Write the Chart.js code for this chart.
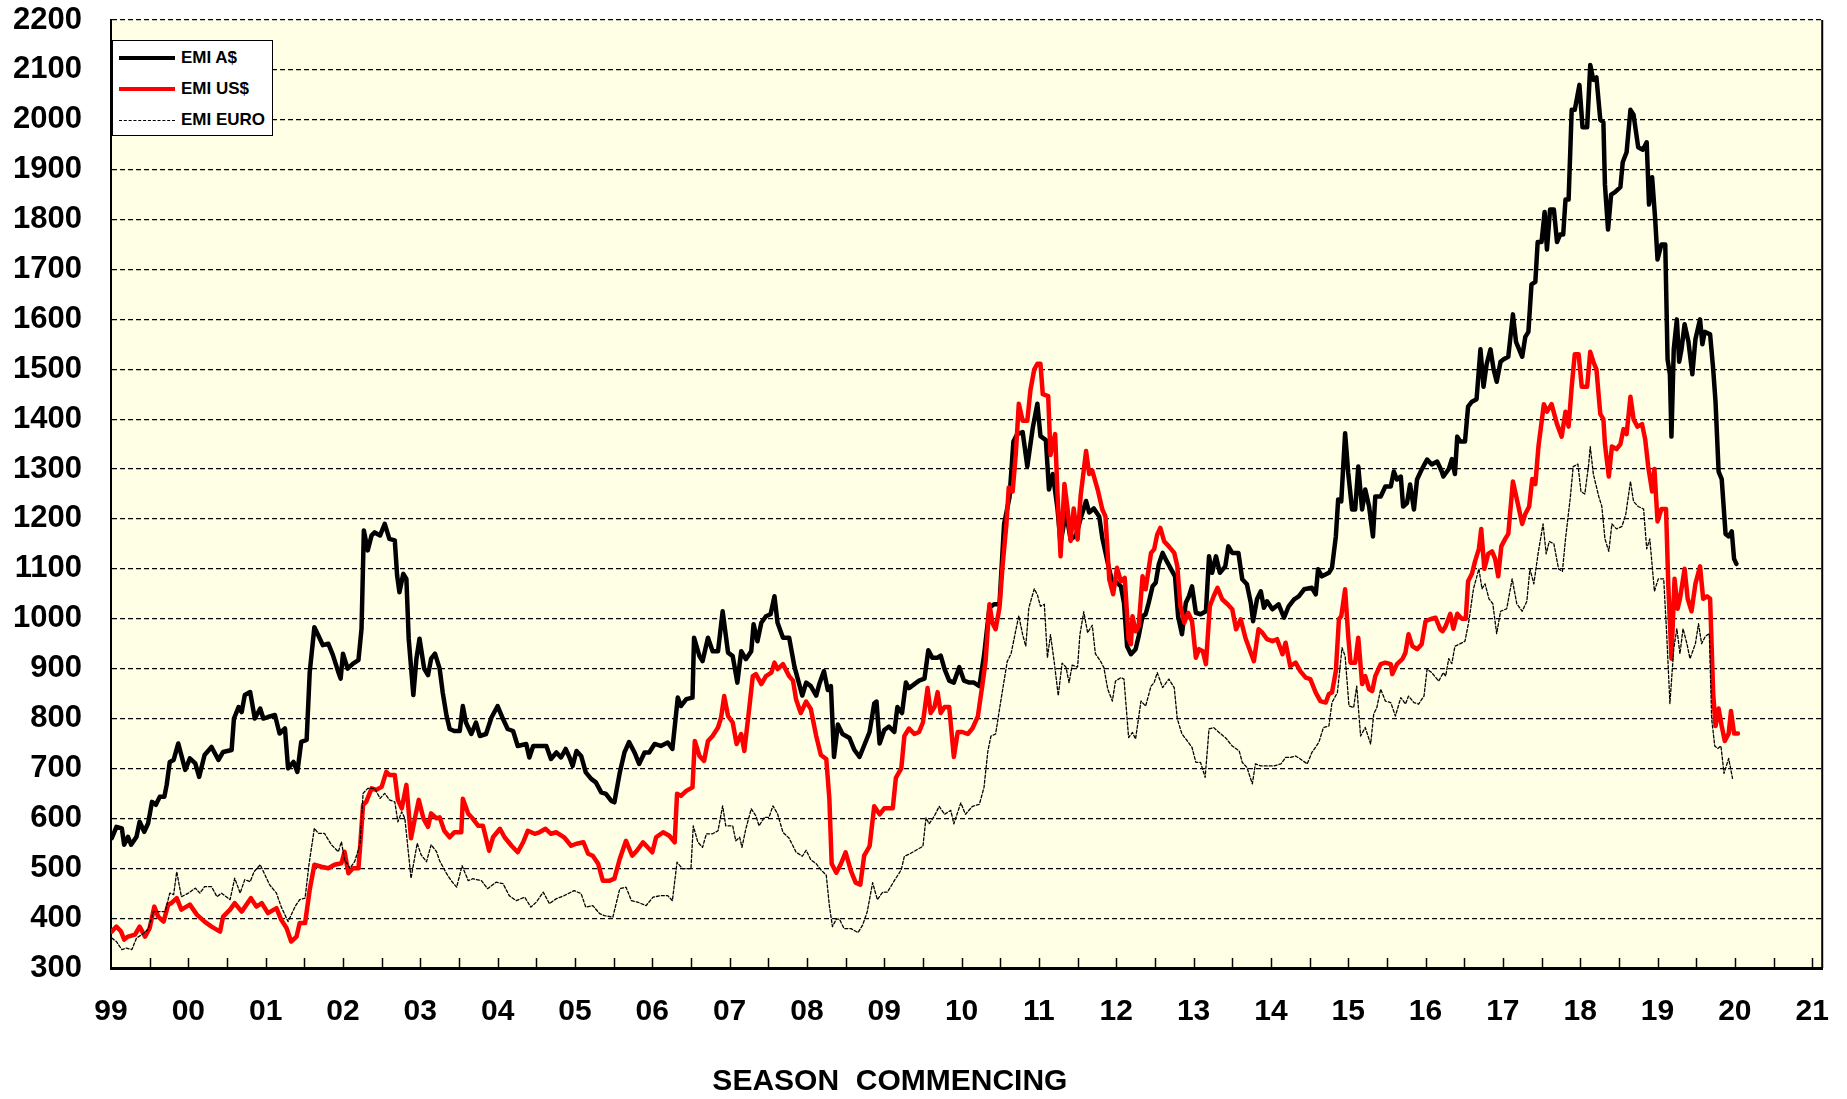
<!DOCTYPE html>
<html>
<head>
<meta charset="utf-8">
<title>EMI</title>
<script src="https://cdn.jsdelivr.net/npm/chart.js@4.4.1/dist/chart.umd.min.js"></script>
<style>
  html, body { margin: 0; padding: 0; background: #fff; }
  #wrap { position: relative; width: 1847px; height: 1099px; }
  #legend {
    position: absolute; left: 112px; top: 40px; width: 159px; height: 94px;
    border: 1.5px solid #000; background: #fff;
    font: bold 17px "Liberation Sans", Arial, sans-serif; color: #000;
  }
  .row { position: absolute; left: 0; width: 100%; height: 20px; }
  .sample { position: absolute; left: 6px; width: 56px; top: 8px; height: 0; }
  .label { position: absolute; left: 68px; top: 0; line-height: 20px; white-space: nowrap; }
</style>
</head>
<body>
<div id="wrap">
  <canvas id="emiChart" width="1847" height="1099"></canvas>
  <div id="legend">
    <div class="row" style="top:7px"><div class="sample" style="border-top:4px solid #000"></div><span class="label">EMI A$</span></div>
    <div class="row" style="top:38px"><div class="sample" style="border-top:4px solid #f00"></div><span class="label">EMI US$</span></div>
    <div class="row" style="top:69px"><div class="sample" style="top:10px;border-top:1px dashed #000"></div><span class="label">EMI EURO</span></div>
  </div>
</div>
<script>
// values, x = season year (decimal), y = cents/kg
const aud = [
  [1999.01,560],[1999.07,583],[1999.14,580],[1999.17,547],[1999.22,563],[1999.26,547],[1999.33,563],[1999.37,593],[1999.43,573],[1999.48,590],[1999.53,633],[1999.58,627],[1999.63,643],[1999.69,643],[1999.72,667],[1999.76,713],[1999.81,717],[1999.87,750],[1999.96,697],
  [2000.02,720],[2000.09,710],[2000.14,683],[2000.21,727],[2000.30,743],[2000.39,717],[2000.45,733],[2000.56,737],[2000.59,800],[2000.65,823],[2000.69,813],[2000.73,847],[2000.80,853],[2000.86,800],[2000.93,820],[2000.97,800],
  [2001.03,803],[2001.12,807],[2001.18,770],[2001.25,780],[2001.29,700],[2001.36,713],[2001.41,693],[2001.46,753],[2001.53,757],[2001.57,893],[2001.63,983],[2001.68,967],[2001.74,947],[2001.81,950],[2001.87,927],[2001.94,893],[2001.97,880],
  [2002.00,930],[2002.06,900],[2002.13,910],[2002.20,917],[2002.24,980],[2002.27,1177],[2002.32,1137],[2002.37,1167],[2002.41,1173],[2002.48,1167],[2002.54,1190],[2002.60,1160],[2002.67,1157],[2002.70,1087],[2002.73,1053],[2002.78,1090],[2002.82,1080],[2002.85,960],[2002.91,847],[2002.95,920],[2002.99,960],
  [2003.05,900],[2003.10,887],[2003.14,920],[2003.19,930],[2003.25,900],[2003.29,852],[2003.34,805],[2003.38,779],[2003.44,775],[2003.51,775],[2003.55,825],[2003.59,792],[2003.66,769],[2003.72,792],[2003.77,765],[2003.85,769],[2003.92,802],
  [2004.00,825],[2004.07,799],[2004.13,779],[2004.20,775],[2004.26,745],[2004.37,749],[2004.41,722],[2004.46,745],[2004.54,745],[2004.63,745],[2004.69,719],[2004.76,732],[2004.82,722],[2004.88,739],[2004.93,722],[2004.97,705],
  [2005.02,735],[2005.08,725],[2005.14,692],[2005.21,679],[2005.27,672],[2005.34,652],[2005.40,649],[2005.47,635],[2005.51,632],[2005.58,692],[2005.64,732],[2005.70,753],[2005.77,732],[2005.83,709],[2005.90,732],[2005.96,732],
  [2006.03,749],[2006.11,745],[2006.20,752],[2006.26,739],[2006.33,842],[2006.37,825],[2006.44,839],[2006.52,842],[2006.54,962],[2006.61,925],[2006.65,915],[2006.72,962],[2006.78,935],[2006.85,935],[2006.91,1015],[2006.98,932],
  [2007.04,925],[2007.10,872],[2007.15,935],[2007.21,919],[2007.28,935],[2007.31,989],[2007.36,955],[2007.41,992],[2007.47,1005],[2007.53,1009],[2007.58,1045],[2007.62,992],[2007.69,962],[2007.77,962],[2007.84,903],[2007.90,869],[2007.94,846],[2007.99,872],
  [2008.05,865],[2008.12,846],[2008.16,869],[2008.22,895],[2008.27,857],[2008.31,865],[2008.35,723],[2008.40,788],[2008.46,769],[2008.55,761],[2008.61,738],[2008.68,723],[2008.74,746],[2008.81,773],[2008.87,830],[2008.90,834],[2008.94,750],
  [2009.00,777],[2009.06,784],[2009.13,773],[2009.17,823],[2009.23,811],[2009.28,872],[2009.32,861],[2009.39,869],[2009.45,876],[2009.52,880],[2009.57,937],[2009.62,922],[2009.69,922],[2009.73,926],[2009.78,899],[2009.84,876],[2009.90,872],[2009.97,903],
  [2010.03,876],[2010.10,872],[2010.16,872],[2010.23,865],[2010.29,926],[2010.36,1022],[2010.42,1029],[2010.49,1029],[2010.55,1190],[2010.62,1244],[2010.67,1355],[2010.72,1370],[2010.79,1374],[2010.85,1305],[2010.92,1382],[2010.98,1431],
  [2011.02,1366],[2011.09,1358],[2011.13,1259],[2011.18,1290],[2011.24,1221],[2011.28,1152],[2011.35,1213],[2011.41,1159],[2011.48,1167],[2011.54,1201],[2011.61,1236],[2011.65,1213],[2011.71,1221],[2011.78,1205],[2011.82,1162],[2011.89,1112],[2011.95,1072],[2011.99,1075],
  [2012.06,1065],[2012.10,1032],[2012.14,945],[2012.19,929],[2012.25,939],[2012.29,965],[2012.34,1005],[2012.38,1009],[2012.42,1032],[2012.47,1065],[2012.51,1072],[2012.55,1109],[2012.60,1132],[2012.64,1119],[2012.70,1102],[2012.76,1085],[2012.80,1005],[2012.85,969],[2012.90,1032],[2012.94,1045],[2012.98,1065],
  [2013.03,1012],[2013.09,1009],[2013.16,1015],[2013.20,1125],[2013.24,1092],[2013.29,1125],[2013.34,1092],[2013.41,1105],[2013.45,1145],[2013.50,1132],[2013.58,1132],[2013.63,1079],[2013.69,1069],[2013.74,1032],[2013.77,995],[2013.82,1039],[2013.87,1055],[2013.91,1022],[2013.95,1035],
  [2014.02,1019],[2014.10,1029],[2014.17,1002],[2014.23,1025],[2014.30,1039],[2014.36,1045],[2014.43,1059],[2014.53,1062],[2014.58,1049],[2014.61,1099],[2014.66,1085],[2014.75,1092],[2014.79,1102],[2014.84,1165],[2014.87,1239],[2014.91,1235],[2014.96,1372],
  [2015.00,1292],[2015.05,1219],[2015.09,1219],[2015.13,1305],[2015.18,1219],[2015.22,1259],[2015.27,1225],[2015.32,1165],[2015.35,1245],[2015.42,1245],[2015.48,1265],[2015.55,1265],[2015.59,1295],[2015.63,1279],[2015.68,1285],[2015.71,1225],[2015.76,1232],[2015.80,1269],[2015.85,1219],[2015.89,1279],[2015.95,1299],
  [2016.02,1319],[2016.08,1309],[2016.15,1315],[2016.21,1295],[2016.23,1285],[2016.30,1300],[2016.34,1320],[2016.38,1290],[2016.41,1365],[2016.45,1355],[2016.51,1355],[2016.55,1425],[2016.60,1435],[2016.66,1440],[2016.71,1540],[2016.75,1465],[2016.79,1510],[2016.84,1540],[2016.88,1500],[2016.92,1475],[2016.97,1515],
  [2017.01,1520],[2017.07,1525],[2017.13,1610],[2017.17,1555],[2017.25,1525],[2017.29,1565],[2017.33,1575],[2017.37,1670],[2017.42,1675],[2017.45,1755],[2017.50,1755],[2017.54,1815],[2017.57,1740],[2017.61,1820],[2017.66,1820],[2017.70,1755],[2017.74,1770],[2017.78,1770],[2017.81,1840],[2017.85,1840],[2017.89,2020],[2017.93,2020],[2017.99,2070],
  [2018.03,1985],[2018.09,1985],[2018.13,2110],[2018.17,2080],[2018.21,2085],[2018.26,2000],[2018.30,1995],[2018.32,1870],[2018.36,1780],[2018.40,1850],[2018.45,1855],[2018.52,1865],[2018.55,1915],[2018.60,1935],[2018.65,2020],[2018.69,2010],[2018.75,1945],[2018.81,1940],[2018.86,1955],[2018.89,1830],[2018.93,1885],[2018.97,1800],
  [2019.00,1720],[2019.05,1750],[2019.10,1750],[2019.13,1520],[2019.16,1490],[2019.18,1365],[2019.21,1540],[2019.25,1600],[2019.28,1515],[2019.31,1540],[2019.35,1590],[2019.40,1555],[2019.45,1490],[2019.49,1560],[2019.55,1600],[2019.58,1550],[2019.61,1575],[2019.68,1570],[2019.72,1500],[2019.75,1435],[2019.79,1295],[2019.83,1280],[2019.88,1170],[2019.92,1165],[2019.96,1175],[2019.99,1120],
  [2020.02,1110]
];

const usd = [
  [1999.01,373],[1999.07,383],[1999.13,373],[1999.17,357],[1999.22,363],[1999.31,367],[1999.37,383],[1999.44,363],[1999.50,380],[1999.56,423],[1999.61,403],[1999.68,393],[1999.74,427],[1999.78,430],[1999.85,440],[1999.91,417],
  [2000.02,427],[2000.11,407],[2000.21,393],[2000.30,383],[2000.41,373],[2000.45,403],[2000.54,417],[2000.60,430],[2000.69,413],[2000.81,440],[2000.88,423],[2000.95,430],
  [2001.03,410],[2001.14,420],[2001.20,397],[2001.27,380],[2001.33,353],[2001.40,363],[2001.44,390],[2001.51,390],[2001.57,457],[2001.63,507],[2001.72,503],[2001.81,500],[2001.89,507],[2001.98,510],
  [2002.02,533],[2002.07,490],[2002.13,500],[2002.20,500],[2002.22,540],[2002.26,627],[2002.30,633],[2002.37,660],[2002.43,657],[2002.50,663],[2002.56,693],[2002.60,687],[2002.67,687],[2002.71,637],[2002.76,620],[2002.82,667],[2002.88,560],[2002.93,600],[2002.98,637],
  [2003.04,600],[2003.10,583],[2003.14,610],[2003.21,600],[2003.25,602],[2003.31,575],[2003.38,562],[2003.44,572],[2003.53,572],[2003.55,639],[2003.62,609],[2003.68,599],[2003.75,585],[2003.81,585],[2003.89,535],[2003.94,562],
  [2004.03,579],[2004.09,562],[2004.18,545],[2004.26,532],[2004.33,552],[2004.39,575],[2004.48,569],[2004.54,572],[2004.62,579],[2004.69,569],[2004.76,572],[2004.86,562],[2004.95,545],
  [2005.02,549],[2005.11,552],[2005.17,529],[2005.23,525],[2005.30,509],[2005.36,475],[2005.45,475],[2005.51,479],[2005.58,519],[2005.66,555],[2005.74,525],[2005.80,535],[2005.88,552],[2005.94,542],
  [2006.00,532],[2006.05,562],[2006.14,572],[2006.22,565],[2006.29,552],[2006.32,649],[2006.37,645],[2006.44,655],[2006.52,662],[2006.55,755],[2006.61,725],[2006.67,715],[2006.72,755],[2006.78,765],[2006.85,782],[2006.89,802],[2006.93,845],[2006.98,805],
  [2007.04,792],[2007.09,749],[2007.15,769],[2007.19,735],[2007.25,815],[2007.30,885],[2007.34,889],[2007.41,869],[2007.47,885],[2007.54,892],[2007.58,912],[2007.62,899],[2007.69,909],[2007.77,885],[2007.82,876],[2007.86,838],[2007.92,811],[2007.99,834],
  [2008.05,819],[2008.12,765],[2008.18,727],[2008.25,719],[2008.29,639],[2008.32,509],[2008.38,491],[2008.44,509],[2008.50,532],[2008.57,494],[2008.63,471],[2008.69,467],[2008.74,525],[2008.81,544],[2008.87,624],[2008.94,608],
  [2009.00,620],[2009.11,620],[2009.15,681],[2009.22,700],[2009.26,765],[2009.32,780],[2009.39,769],[2009.45,773],[2009.50,792],[2009.56,861],[2009.60,811],[2009.65,823],[2009.69,853],[2009.73,811],[2009.78,823],[2009.84,823],[2009.90,723],[2009.95,773],
  [2010.01,773],[2010.08,769],[2010.14,780],[2010.21,804],[2010.27,869],[2010.31,914],[2010.36,1029],[2010.40,991],[2010.44,979],[2010.49,1022],[2010.53,1106],[2010.58,1190],[2010.61,1263],[2010.66,1255],[2010.70,1328],[2010.74,1431],[2010.79,1397],[2010.85,1397],[2010.89,1458],[2010.94,1500],[2010.98,1511],
  [2011.02,1511],[2011.05,1450],[2011.12,1446],[2011.15,1328],[2011.18,1351],[2011.21,1370],[2011.24,1251],[2011.28,1125],[2011.33,1270],[2011.37,1221],[2011.41,1156],[2011.45,1221],[2011.50,1159],[2011.54,1247],[2011.61,1336],[2011.65,1290],[2011.69,1297],[2011.76,1259],[2011.82,1219],[2011.86,1205],[2011.91,1079],[2011.96,1049],
  [2012.01,1102],[2012.06,1075],[2012.11,1082],[2012.16,959],[2012.19,949],[2012.21,1005],[2012.25,975],[2012.29,985],[2012.34,1085],[2012.38,1059],[2012.45,1132],[2012.49,1139],[2012.53,1169],[2012.57,1182],[2012.62,1155],[2012.68,1145],[2012.75,1132],[2012.79,1105],[2012.83,1025],[2012.88,992],[2012.93,1012],[2012.98,995],
  [2013.03,922],[2013.07,939],[2013.12,935],[2013.16,909],[2013.21,1025],[2013.26,1045],[2013.31,1062],[2013.37,1039],[2013.44,1029],[2013.50,1019],[2013.55,979],[2013.61,999],[2013.67,962],[2013.74,932],[2013.78,915],[2013.84,979],[2013.89,972],[2013.95,959],
  [2014.02,955],[2014.08,959],[2014.15,929],[2014.19,952],[2014.25,905],[2014.32,912],[2014.38,895],[2014.45,882],[2014.51,879],[2014.58,852],[2014.64,835],[2014.71,832],[2014.75,849],[2014.79,852],[2014.84,895],[2014.88,999],[2014.91,1005],[2014.96,1059],
  [2015.00,965],[2015.03,912],[2015.09,912],[2015.13,962],[2015.18,869],[2015.22,885],[2015.27,859],[2015.31,855],[2015.35,885],[2015.42,909],[2015.48,912],[2015.55,909],[2015.57,889],[2015.63,909],[2015.70,919],[2015.74,932],[2015.78,969],[2015.83,945],[2015.89,939],[2015.95,949],
  [2016.00,995],[2016.06,999],[2016.13,1002],[2016.19,979],[2016.22,975],[2016.26,985],[2016.32,1010],[2016.36,980],[2016.41,1010],[2016.47,1000],[2016.52,1000],[2016.55,1075],[2016.60,1090],[2016.64,1115],[2016.69,1140],[2016.72,1180],[2016.76,1100],[2016.81,1130],[2016.86,1135],[2016.90,1120],[2016.94,1085],[2016.98,1145],
  [2017.03,1160],[2017.07,1170],[2017.13,1275],[2017.18,1240],[2017.25,1190],[2017.29,1210],[2017.34,1225],[2017.38,1280],[2017.42,1270],[2017.46,1345],[2017.53,1430],[2017.57,1415],[2017.63,1430],[2017.70,1390],[2017.76,1365],[2017.81,1415],[2017.85,1385],[2017.89,1465],[2017.93,1530],[2017.98,1530],
  [2018.02,1465],[2018.09,1465],[2018.13,1535],[2018.17,1515],[2018.21,1500],[2018.26,1410],[2018.30,1400],[2018.32,1350],[2018.37,1285],[2018.41,1345],[2018.47,1340],[2018.52,1350],[2018.56,1380],[2018.60,1370],[2018.65,1445],[2018.69,1400],[2018.74,1385],[2018.80,1390],[2018.84,1360],[2018.88,1305],[2018.93,1255],[2018.96,1300],
  [2019.00,1195],[2019.05,1220],[2019.11,1220],[2019.14,1065],[2019.18,920],[2019.22,1080],[2019.26,1020],[2019.29,1040],[2019.35,1100],[2019.39,1040],[2019.44,1015],[2019.49,1070],[2019.55,1105],[2019.59,1040],[2019.64,1045],[2019.68,1040],[2019.72,850],[2019.75,785],[2019.79,820],[2019.83,785],[2019.87,755],[2019.92,770],[2019.95,815],[2019.99,770],
  [2020.04,770]
];

const eur = [
  [1999.01,360],[1999.07,353],[1999.14,337],[1999.20,340],[1999.27,337],[1999.33,360],[1999.40,367],[1999.48,377],[1999.55,413],[1999.61,413],[1999.70,413],[1999.76,450],[1999.81,447],[1999.85,493],[1999.91,443],
  [2000.00,450],[2000.09,460],[2000.15,450],[2000.21,463],[2000.30,463],[2000.37,443],[2000.43,450],[2000.54,437],[2000.60,480],[2000.67,450],[2000.73,477],[2000.80,473],[2000.85,493],[2000.93,507],[2000.99,487],
  [2001.05,467],[2001.14,450],[2001.20,423],[2001.29,393],[2001.38,423],[2001.44,437],[2001.51,440],[2001.56,507],[2001.63,580],[2001.68,570],[2001.76,570],[2001.85,547],[2001.94,533],[2001.98,553],
  [2002.02,517],[2002.09,500],[2002.15,513],[2002.22,547],[2002.26,650],[2002.32,660],[2002.41,660],[2002.48,640],[2002.54,650],[2002.60,637],[2002.67,633],[2002.71,593],[2002.76,613],[2002.80,600],[2002.88,480],[2002.96,550],
  [2003.01,527],[2003.08,513],[2003.14,547],[2003.21,533],[2003.25,515],[2003.34,489],[2003.40,475],[2003.47,462],[2003.54,505],[2003.62,475],[2003.68,479],[2003.79,475],[2003.87,459],[2003.98,472],
  [2004.07,469],[2004.15,445],[2004.24,435],[2004.35,442],[2004.43,422],[2004.50,432],[2004.59,452],[2004.67,429],[2004.76,439],[2004.86,445],[2004.99,455],
  [2005.08,449],[2005.14,422],[2005.23,425],[2005.32,409],[2005.38,405],[2005.49,402],[2005.58,459],[2005.66,462],[2005.73,435],[2005.81,432],[2005.92,425],
  [2006.01,442],[2006.11,445],[2006.20,445],[2006.26,435],[2006.32,512],[2006.39,499],[2006.50,499],[2006.53,585],[2006.59,552],[2006.65,542],[2006.70,569],[2006.78,569],[2006.85,575],[2006.91,625],[2006.95,585],
  [2007.04,585],[2007.08,555],[2007.13,562],[2007.16,542],[2007.21,579],[2007.28,619],[2007.34,605],[2007.38,585],[2007.45,602],[2007.51,602],[2007.56,625],[2007.62,609],[2007.69,572],[2007.77,560],[2007.86,532],[2007.94,524],[2007.99,536],
  [2008.05,517],[2008.12,509],[2008.18,497],[2008.25,486],[2008.29,425],[2008.33,383],[2008.38,398],[2008.42,398],[2008.48,379],[2008.57,379],[2008.66,371],[2008.72,386],[2008.78,413],[2008.85,471],[2008.91,437],[2008.98,452],
  [2009.04,452],[2009.13,475],[2009.22,497],[2009.26,524],[2009.32,528],[2009.41,536],[2009.50,544],[2009.54,601],[2009.58,589],[2009.65,605],[2009.71,624],[2009.78,608],[2009.86,616],[2009.90,589],[2009.99,631],
  [2010.05,608],[2010.14,624],[2010.23,628],[2010.29,662],[2010.34,735],[2010.38,765],[2010.44,769],[2010.51,838],[2010.55,876],[2010.59,914],[2010.64,930],[2010.70,976],[2010.74,1006],[2010.79,968],[2010.83,945],[2010.87,1022],[2010.94,1060],[2010.98,1048],
  [2011.02,1025],[2011.07,1029],[2011.11,922],[2011.15,968],[2011.20,911],[2011.25,846],[2011.30,911],[2011.35,903],[2011.39,872],[2011.43,907],[2011.50,903],[2011.53,968],[2011.58,1014],[2011.63,972],[2011.69,987],[2011.73,930],[2011.80,914],[2011.84,902],[2011.89,859],[2011.95,835],[2011.99,875],
  [2012.06,882],[2012.10,879],[2012.16,762],[2012.21,772],[2012.25,759],[2012.32,835],[2012.38,825],[2012.45,865],[2012.49,872],[2012.53,892],[2012.60,862],[2012.68,879],[2012.75,862],[2012.79,799],[2012.85,769],[2012.92,755],[2012.98,742],
  [2013.03,712],[2013.09,712],[2013.15,682],[2013.20,779],[2013.26,782],[2013.33,772],[2013.41,762],[2013.50,745],[2013.59,735],[2013.63,712],[2013.69,702],[2013.76,669],[2013.80,709],[2013.87,705],[2013.95,705],
  [2014.04,705],[2014.13,709],[2014.19,722],[2014.25,722],[2014.32,725],[2014.38,719],[2014.47,709],[2014.53,732],[2014.62,752],[2014.68,782],[2014.75,785],[2014.79,832],[2014.86,852],[2014.92,942],[2014.96,925],
  [2015.01,825],[2015.07,822],[2015.11,865],[2015.16,765],[2015.22,782],[2015.29,749],[2015.33,809],[2015.37,822],[2015.42,859],[2015.48,835],[2015.55,832],[2015.61,805],[2015.68,842],[2015.74,829],[2015.78,845],[2015.85,832],[2015.91,829],[2015.98,845],
  [2016.02,899],[2016.08,892],[2016.17,875],[2016.23,892],[2016.26,885],[2016.30,920],[2016.34,910],[2016.38,945],[2016.45,950],[2016.51,955],[2016.56,995],[2016.62,1060],[2016.69,1100],[2016.73,1060],[2016.77,1070],[2016.82,1040],[2016.87,1030],[2016.92,970],[2016.97,1015],
  [2017.05,1020],[2017.12,1080],[2017.18,1030],[2017.25,1015],[2017.31,1035],[2017.35,1100],[2017.40,1070],[2017.46,1135],[2017.52,1190],[2017.56,1130],[2017.60,1155],[2017.66,1150],[2017.72,1100],[2017.77,1095],[2017.81,1160],[2017.87,1240],[2017.91,1305],[2017.97,1310],
  [2018.01,1255],[2018.06,1250],[2018.11,1310],[2018.13,1345],[2018.17,1290],[2018.24,1245],[2018.28,1225],[2018.32,1160],[2018.37,1135],[2018.41,1190],[2018.47,1180],[2018.54,1185],[2018.59,1210],[2018.65,1275],[2018.69,1235],[2018.75,1225],[2018.82,1220],[2018.86,1140],[2018.90,1160],[2018.96,1055],
  [2019.01,1080],[2019.08,1080],[2019.12,965],[2019.16,830],[2019.21,940],[2019.25,980],[2019.29,930],[2019.33,980],[2019.38,950],[2019.42,920],[2019.49,950],[2019.53,990],[2019.57,950],[2019.62,965],[2019.67,970],[2019.70,800],[2019.74,745],[2019.78,740],[2019.82,745],[2019.86,690],[2019.92,720],[2019.97,680]
];

const seriesNames = ['EMI A$', 'EMI US$', 'EMI EURO'];
const yMin = 300, yMax = 2200, yStep = 100;
const xMin = 1999, xMax = 2021.13;
const xTitle = 'SEASON  COMMENCING';

const FONT = '"Liberation Sans", Arial, sans-serif';

// cream plot background, right frame, half-year tick marks, axis title
const chartDecor = {
  id: 'chartDecor',
  beforeDraw(chart) {
    const {ctx, chartArea: a} = chart;
    ctx.save();
    ctx.fillStyle = '#fff';
    ctx.fillRect(0, 0, chart.width, chart.height);
    ctx.fillStyle = '#ffffe6';
    ctx.fillRect(a.left, a.top, a.right - a.left, a.bottom - a.top);
    ctx.restore();
  },
  afterDraw(chart) {
    const {ctx, chartArea: a} = chart;
    const xs = chart.scales.x;
    ctx.save();
    ctx.strokeStyle = '#000';
    ctx.lineWidth = 2;
    ctx.beginPath();
    ctx.moveTo(a.right, a.top);
    ctx.lineTo(a.right, a.bottom);
    ctx.stroke();

    ctx.lineWidth = 1.5;
    for (let v = xMin + 0.5; v <= xMax; v += 0.5) {
      const px = Math.round(xs.getPixelForValue(v)) + 0.5;
      ctx.beginPath();
      ctx.moveTo(px, a.bottom);
      ctx.lineTo(px, a.bottom - 10);
      ctx.stroke();
    }

    ctx.fillStyle = '#000';
    ctx.font = 'bold 30px ' + FONT;
    ctx.textAlign = 'center';
    ctx.textBaseline = 'middle';
    ctx.fillText(xTitle, chart.width * 0.4818, 1082);
    ctx.restore();
  }
};

const ctx = document.getElementById('emiChart').getContext('2d');
const chart = new Chart(ctx, {
  type: 'line',
  data: {
    datasets: [
      {label: seriesNames[0], data: aud, borderColor: '#000000', borderWidth: 4.5, order: 3},
      {label: seriesNames[1], data: usd, borderColor: '#ff0000', borderWidth: 4.5, order: 2},
      {label: seriesNames[2], data: eur, borderColor: '#000000', borderWidth: 1.3, borderDash: [3, 2], order: 1}
    ]
  },
  options: {
    responsive: false,
    animation: false,
    events: [],
    elements: {
      point: {radius: 0},
      line: {tension: 0, borderJoinStyle: 'round', borderCapStyle: 'round', fill: false}
    },
    layout: {padding: {top: 20, right: 24, left: 0, bottom: 0}},
    plugins: {
      legend: {display: false},
      tooltip: {enabled: false}
    },
    scales: {
      x: {
        type: 'linear',
        min: xMin,
        max: xMax,
        grid: {display: false},
        border: {display: true, color: '#000', width: 3},
        ticks: {
          stepSize: 1,
          includeBounds: false,
          autoSkip: false,
          maxRotation: 0,
          padding: 18,
          color: '#000',
          font: {family: FONT, size: 30, weight: 'bold'},
          callback: v => String(Math.round(v) % 100).padStart(2, '0')
        },
        afterFit(scale) { scale.height = 131; }
      },
      y: {
        min: yMin,
        max: yMax,
        grid: {color: '#000', lineWidth: 1.2, drawTicks: false},
        border: {display: true, color: '#000', width: 2, dash: [5, 3]},
        ticks: {
          stepSize: yStep,
          padding: 29,
          color: '#000',
          font: {family: FONT, size: 31, weight: 'bold'},
          callback: v => String(v)
        },
        afterFit(scale) {
          scale.width = 111;
          scale.paddingTop = 0;
          scale.paddingBottom = 0;
        }
      }
    }
  },
  plugins: [chartDecor]
});
</script>
</body>
</html>
